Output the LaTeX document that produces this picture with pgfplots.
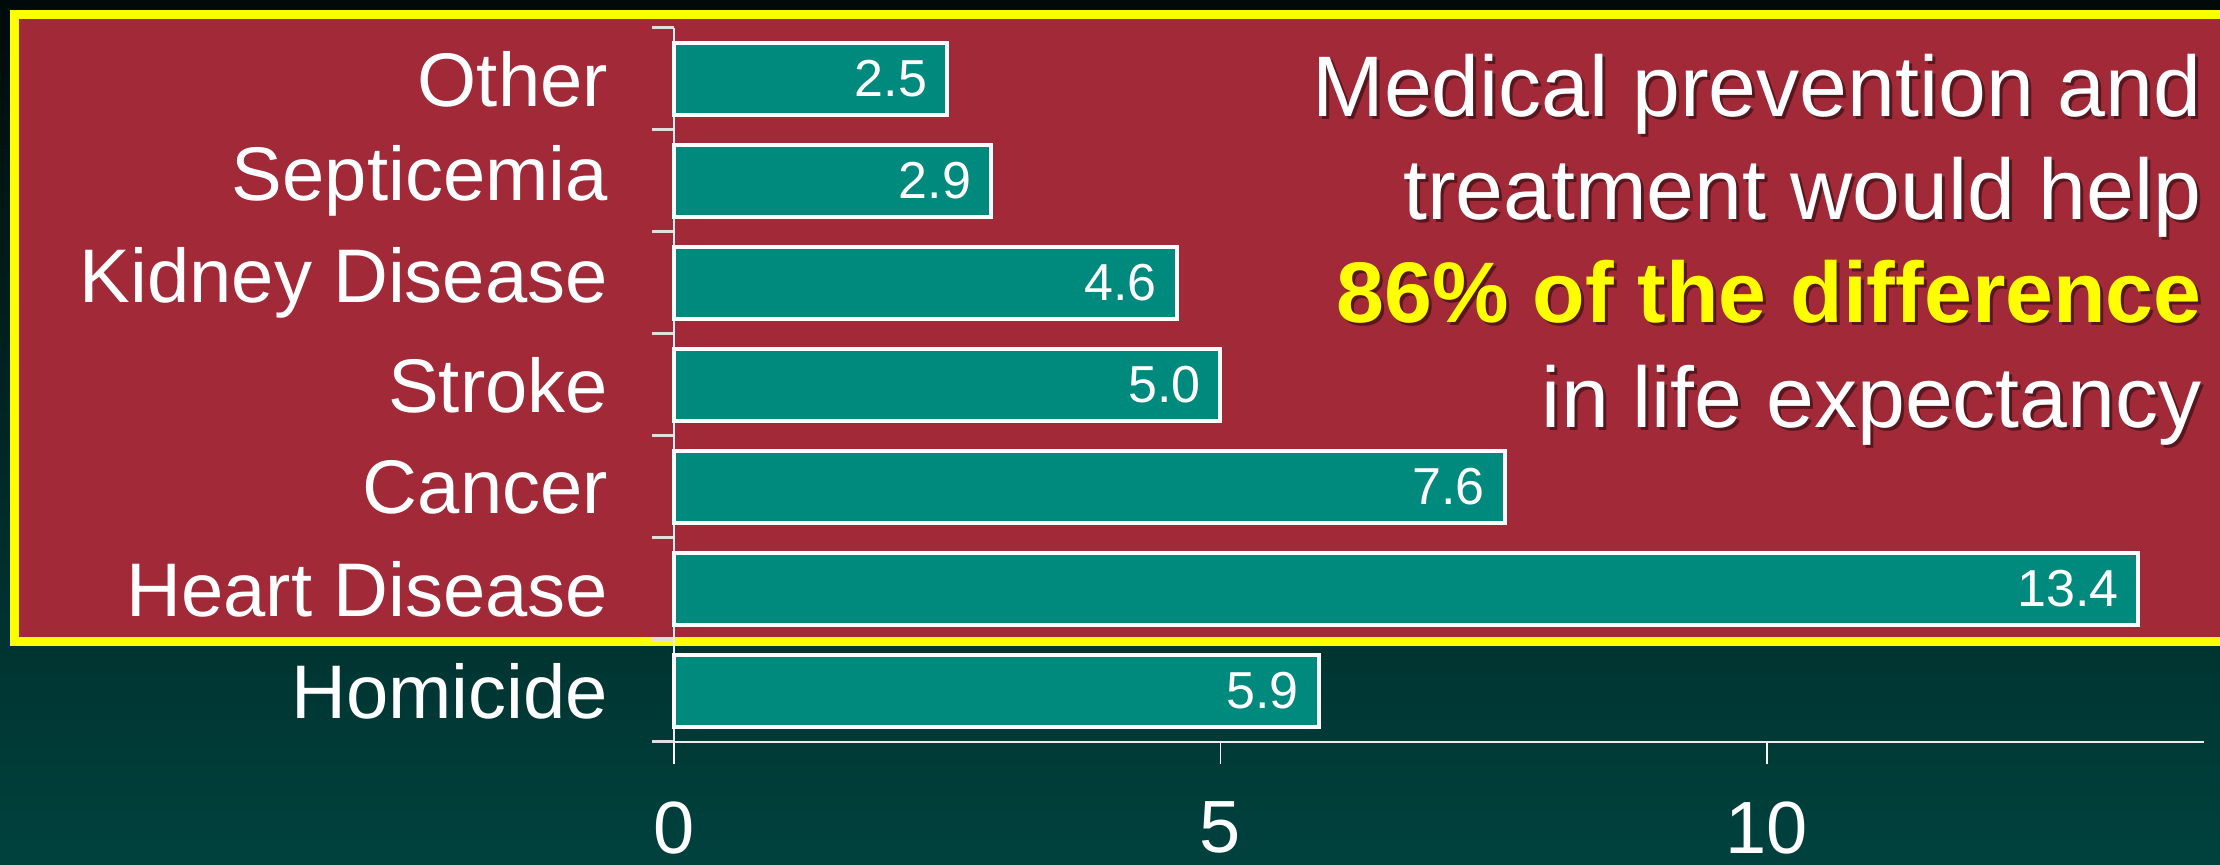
\documentclass[border=0pt]{standalone}
\usepackage{pgfplots}
\pgfplotsset{compat=1.18}
\usepackage{fontspec}
\setmainfont{Liberation Sans}
\definecolor{bgtop}{RGB}{0,10,10}
\definecolor{bgbot}{RGB}{0,66,62}
\definecolor{boxred}{RGB}{161,41,56}
\definecolor{barteal}{RGB}{0,138,126}
\definecolor{hiyellow}{RGB}{255,255,0}
\newcommand{\annfont}{\fontsize{43}{52}\selectfont}
\begin{document}
\begin{tikzpicture}[x=1pt,y=1pt]
\path[use as bounding box] (0,0) rectangle (1110,432.5);
\shade[top color=bgtop,bottom color=bgbot] (0,0) rectangle (1110,432.5);
\fill[boxred] (7,425.25) rectangle (1120,111.75);
\draw[hiyellow,line width=4.5pt] (1120,425.25) -- (7,425.25) -- (7,111.75) -- (1120,111.75);
\begin{axis}[
  at={(337pt,61.5pt)}, anchor=south west,
  scale only axis, width=765pt, height=357pt,
  xbar, bar width=0.7,
  xmin=0, xmax=14, ymin=-0.5, ymax=6.5,
  axis x line*=bottom, axis y line*=left,
  axis line style={draw=white!85!gray, line width=1pt},
  xtick={0,5,10}, ytick={0,...,6},
  yticklabels={Homicide,Heart Disease,Cancer,Stroke,Kidney Disease,Septicemia,Other},
  minor ytick={-0.5,0.5,...,6.5},
  tick align=outside,
  major tick length=11pt, minor tick length=11pt,
  major y tick style={draw=none},
  minor y tick style={draw=white!75!gray, line width=1.5pt},
  major x tick style={draw=white, line width=0.8pt},
  /pgf/number format/assume math mode=true,
  yticklabel style={font=\fontsize{38}{44}\selectfont, text=white, xshift=-18.5pt},
  xticklabel style={font=\fontsize{37}{44}\selectfont, text=white, inner sep=0pt, yshift=-18.5pt},
  point meta=explicit symbolic,
  nodes near coords,
  every node near coord/.append style={anchor=east, text=white, font=\fontsize{26}{30}\selectfont, inner sep=2pt, xshift=-7pt},
  clip=false,
]
\addplot[fill=barteal, draw=white, line width=2pt] table[x=x, y=y, meta=label] {
x    y label
5.9  0 5.9
13.4 1 13.4
7.6  2 7.6
5.0  3 5.0
4.6  4 4.6
2.9  5 2.9
2.5  6 2.5
};
\end{axis}
% annotation with shadow
\foreach \yy/\txt in {374/{Medical prevention and},322.5/{treatment would help},218.5/{in life expectancy}}{
  \node[anchor=base east, inner sep=0pt, text=black, opacity=0.45, font=\annfont] at (1102.5,\yy-1.5) {\txt};
  \node[anchor=base east, inner sep=0pt, text=white, font=\annfont] at (1101,\yy) {\txt};
}
\node[anchor=base east, inner sep=0pt, text=black, opacity=0.45, font=\annfont\bfseries] at (1102.5,269.5) {86\% of the difference};
\node[anchor=base east, inner sep=0pt, text=hiyellow, font=\annfont\bfseries] at (1101,271) {86\% of the difference};
\end{tikzpicture}
\end{document}
